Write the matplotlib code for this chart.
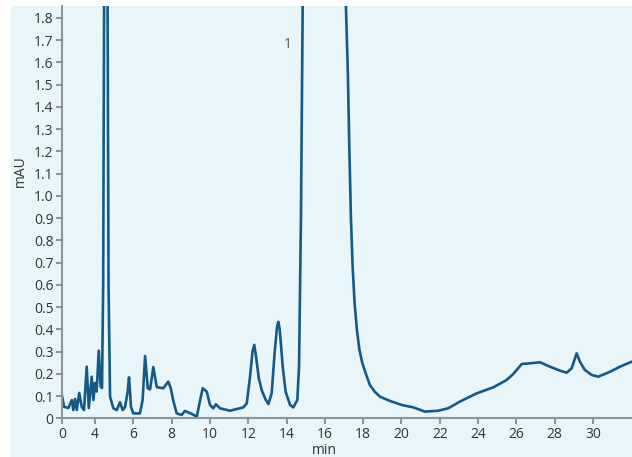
import numpy as np
import matplotlib
matplotlib.use("Agg")
import matplotlib.pyplot as plt
from matplotlib.patches import Rectangle

# retention time (min) and absorbance (mAU)
time_min = [2.26, 2.38, 2.60, 2.78, 2.86, 2.95, 3.04, 3.17, 3.30, 3.42,
            3.56, 3.67, 3.82, 3.91, 3.99, 4.08, 4.19, 4.29, 4.36, 4.42,
            4.47, 4.56, 4.65, 4.70, 4.78, 4.95, 5.13, 5.30, 5.44, 5.56,
            5.70, 5.77, 5.83, 5.87, 5.99, 6.34, 6.48, 6.61, 6.75, 6.87,
            7.04, 7.22, 7.56, 7.82, 7.95, 8.08, 8.26, 8.52, 8.69, 9.04,
            9.31, 9.48, 9.62, 9.83, 10.00, 10.17, 10.31, 10.52, 11.04, 11.74,
            11.92, 12.09, 12.22, 12.31, 12.40, 12.55, 12.70, 12.90, 13.05, 13.22,
            13.38, 13.50, 13.57, 13.64, 13.80, 13.95, 14.18, 14.35, 14.56, 14.65,
            14.75, 14.84, 15.00, 15.90, 16.80, 17.10, 17.20, 17.28, 17.36, 17.45,
            17.55, 17.67, 17.80, 17.95, 18.14, 18.35, 18.60, 18.88, 19.40, 20.01,
            20.62, 21.23, 21.92, 22.44, 23.05, 23.93, 24.79, 25.49, 25.84, 26.28,
            26.71, 27.23, 27.75, 28.28, 28.63, 28.89, 29.15, 29.32, 29.58, 29.93,
            30.28, 30.89, 31.41, 32.02]
absorbance = [0.105, 0.052, 0.046, 0.082, 0.037, 0.087, 0.037, 0.114, 0.052, 0.037,
              0.232, 0.046, 0.187, 0.082, 0.159, 0.120, 0.304, 0.142, 0.136, 0.600,
              1.900, 3.000, 1.900, 0.600, 0.097, 0.045, 0.037, 0.072, 0.037, 0.050,
              0.120, 0.184, 0.110, 0.052, 0.022, 0.022, 0.082, 0.280, 0.135, 0.130,
              0.230, 0.140, 0.135, 0.165, 0.135, 0.080, 0.022, 0.015, 0.033, 0.020,
              0.007, 0.080, 0.135, 0.120, 0.060, 0.045, 0.063, 0.045, 0.034, 0.049,
              0.067, 0.187, 0.300, 0.330, 0.280, 0.180, 0.127, 0.085, 0.064, 0.112,
              0.300, 0.410, 0.434, 0.400, 0.230, 0.120, 0.060, 0.049, 0.082, 0.232,
              0.900, 1.850, 4.000, 9.000, 4.000, 1.850, 1.550, 1.200, 0.900, 0.680,
              0.520, 0.400, 0.310, 0.250, 0.200, 0.150, 0.120, 0.097, 0.078, 0.060,
              0.049, 0.030, 0.034, 0.045, 0.075, 0.112, 0.139, 0.172, 0.199, 0.244,
              0.247, 0.252, 0.232, 0.214, 0.205, 0.225, 0.292, 0.254, 0.217, 0.195,
              0.187, 0.209, 0.232, 0.254]

x_start = 2.27
x_ticks = [x_start, 4, 6, 8, 10, 12, 14, 16, 18, 20, 22, 24, 26, 28, 30]
x_labels = ["0", "4", "6", "8", "10", "12", "14", "16", "18", "20", "22", "24", "26", "28", "30"]
y_ticks = [0, 0.1, 0.2, 0.3, 0.4, 0.5, 0.6, 0.7, 0.8, 0.9, 1.0, 1.1, 1.2, 1.3, 1.4, 1.5, 1.6, 1.7, 1.8]
y_labels = ["0"] + ["%.1f" % v for v in y_ticks[1:]]

peak_names = ["1"]
peak_pos = [(14.07, 1.68)]

plt.rcParams['font.family'] = ['Open Sans', 'DejaVu Sans']

bg = "#e8f5f9"
axis_grey = "#8d969c"
line_blue = "#155a86"

fig = plt.figure(figsize=(6.32, 4.57), dpi=100, facecolor="white")
fig.patches.append(Rectangle((11 / 632, 0), 1, 451 / 457, transform=fig.transFigure,
                             facecolor=bg, edgecolor="none", zorder=-10))

ax = fig.add_axes([62 / 632, 38.7 / 457, 570 / 632, 412.3 / 457])
ax.set_facecolor("none")
ax.set_zorder(1)
ax.plot(time_min, absorbance, color=line_blue, lw=1.9, solid_joinstyle="round")

ax.set_xlim(x_start, 32.04)
ax.set_ylim(0, 1.853)
ax.set_xticks(x_ticks)
ax.set_xticklabels(x_labels)
ax.set_yticks(y_ticks)
ax.set_yticklabels(y_labels)

for s in ["top", "right"]:
    ax.spines[s].set_visible(False)
for s in ["left", "bottom"]:
    ax.spines[s].set_color(axis_grey)
    ax.spines[s].set_linewidth(1.5)
ax.tick_params(colors=axis_grey, labelcolor="#333333", labelsize=10, length=4, width=1.5, pad=2)

for name, (px, py) in zip(peak_names, peak_pos):
    ax.text(px, py, name, color="#555555", fontsize=10, ha="center", va="center")

fig.text(20 / 632, 1 - 171 / 457, "mAU", rotation=90, ha="center", va="center",
         fontsize=10, color="#333333", zorder=2)
fig.text(324 / 632, 1 - 451 / 457, "min", ha="center", va="center",
         fontsize=10, color="#333333", zorder=2)

fig.savefig("out.png", dpi=100, facecolor="white")
